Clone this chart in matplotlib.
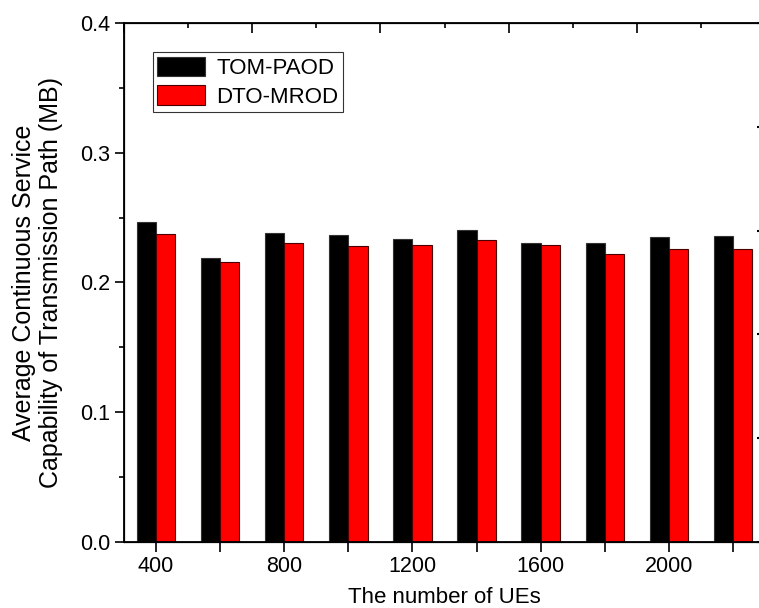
import numpy as np
import matplotlib
matplotlib.use("Agg")
import matplotlib.pyplot as plt
from matplotlib.ticker import MultipleLocator

plt.rcParams['font.family'] = ['Liberation Sans', 'DejaVu Sans']

ues = np.array([400, 600, 800, 1000, 1200, 1400, 1600, 1800, 2000, 2200])
tom_paod = [0.2463, 0.2190, 0.2378, 0.2367, 0.2334, 0.2401, 0.2301, 0.2301, 0.2347, 0.2355]
dto_mrod = [0.2375, 0.2157, 0.2301, 0.2278, 0.2285, 0.2329, 0.2290, 0.2218, 0.2259, 0.2257]
xtick_labels = ["400", "800", "1200", "1600", "2000"]

fig = plt.figure(figsize=(7.59, 6.08), dpi=100)
ax = fig.add_axes([0.1634, 0.109, 0.8445, 0.8531])

w = 60
ax.bar(ues - w / 2, tom_paod, width=w, color='black', edgecolor='#333333',
       linewidth=0.8, label='TOM-PAOD')
ax.bar(ues + w / 2, dto_mrod, width=w, color='#ff0000', edgecolor='#4a0000',
       linewidth=0.8, label='DTO-MROD')

ax.set_xlim(300, 2300)
ax.set_ylim(0, 0.4)
ax.set_xticks([400, 800, 1200, 1600, 2000])
ax.set_xticklabels(xtick_labels)
ax.set_xticks([600, 1000, 1400, 1800, 2200], minor=True)
ax.set_yticks([0.0, 0.1, 0.2, 0.3, 0.4])
ax.set_yticklabels(["0.0", "0.1", "0.2", "0.3", "0.4"])
ax.yaxis.set_minor_locator(MultipleLocator(0.05))
ax.tick_params(axis='x', which='both', direction='out', length=7, width=1.2,
               labelsize=15.5, top=False)
ax.tick_params(axis='y', which='major', direction='out', length=6.5, width=1.2,
               labelsize=15.5, right=False)
ax.tick_params(axis='y', which='minor', direction='out', length=3.5, width=1.2,
               right=False)
for s in ax.spines.values():
    s.set_linewidth(1.3)

# top axis ticks (inward)
axt = ax.twiny()
axt.set_xlim(300, 2300)
axt.set_xticks([300, 700, 1100, 1500, 1900, 2300])
axt.set_xticks([500, 900, 1300, 1700, 2100], minor=True)
axt.tick_params(axis='x', which='major', direction='in', length=7, width=1.2,
                labeltop=False)
axt.tick_params(axis='x', which='minor', direction='in', length=3.5, width=1.2)

# right axis ticks (inward)
axr = ax.twinx()
axr.set_ylim(0, 0.4)
axr.set_yticks([0.0, 0.08, 0.16, 0.24, 0.32, 0.4])
axr.tick_params(axis='y', direction='in', length=6, width=1.5, labelright=False)

ax.set_xlabel("The number of UEs", fontsize=16, labelpad=7)
ax.set_ylabel("Average Continuous Service\nCapability of Transmission Path (MB)",
              fontsize=18, labelpad=12, linespacing=1.15)

leg = ax.legend(loc='upper left', bbox_to_anchor=(0.045, 0.944), fontsize=16,
                frameon=True, fancybox=False, edgecolor='black', borderaxespad=0,
                handlelength=2.15, handleheight=0.95, handletextpad=0.5,
                labelspacing=0.3, borderpad=0.2)
leg.get_frame().set_linewidth(0.8)

fig.savefig("out.png", dpi=100)
